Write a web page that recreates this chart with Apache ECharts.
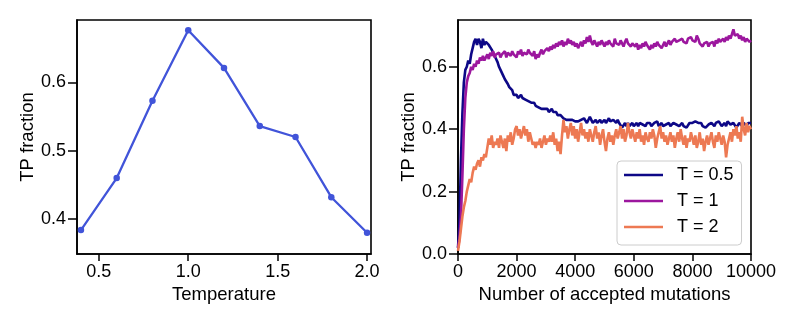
<!DOCTYPE html>
<html>
<head>
<meta charset="utf-8">
<script src="https://cdn.jsdelivr.net/npm/echarts@6/dist/echarts.min.js"></script>
<style>
html,body{margin:0;padding:0;background:#fff;}
#c{width:797px;height:323px;}
</style>
</head>
<body>
<div id="c"></div>
<script>
// ---- Left panel data ----
const temperatures = [0.4, 0.6, 0.8, 1.0, 1.2, 1.4, 1.6, 1.8, 2.0];
const tpByTemperature = [0.384, 0.460, 0.573, 0.676, 0.621, 0.536, 0.520, 0.432, 0.380];
const leftXTicks = [0.5, 1.0, 1.5, 2.0];
const leftYTicks = [0.4, 0.5, 0.6];

// ---- Right panel data (sampled every 50 accepted mutations, 0..10000) ----
const mutationStep = 50;
const seriesNames = ['T = 0.5', 'T = 1', 'T = 2'];
const tpT05 = [
  0.02, 0.10, 0.30, 0.45, 0.55, 0.59, 0.60, 0.62, 0.61, 0.64,
  0.66, 0.68, 0.69, 0.67, 0.69, 0.68, 0.66, 0.69, 0.67, 0.68,
  0.685, 0.67, 0.665, 0.655, 0.645, 0.64, 0.625, 0.615, 0.60, 0.59,
  0.585, 0.57, 0.56, 0.555, 0.545, 0.535, 0.53, 0.525, 0.51, 0.505,
  0.51, 0.50, 0.505, 0.51, 0.50, 0.505, 0.495, 0.50, 0.49, 0.495,
  0.485, 0.48, 0.485, 0.475, 0.48, 0.47, 0.475, 0.465, 0.47, 0.465,
  0.46, 0.465, 0.455, 0.46, 0.465, 0.455, 0.45, 0.455, 0.445, 0.44,
  0.445, 0.44, 0.435, 0.44, 0.43, 0.435, 0.43, 0.425, 0.43, 0.435,
  0.425, 0.43, 0.425, 0.42, 0.43, 0.425, 0.435, 0.43, 0.42, 0.425,
  0.44, 0.43, 0.42, 0.425, 0.43, 0.42, 0.425, 0.43, 0.42, 0.425,
  0.43, 0.42, 0.425, 0.435, 0.425, 0.42, 0.43, 0.425, 0.42, 0.43,
  0.42, 0.415, 0.405, 0.41, 0.42, 0.41, 0.42, 0.41, 0.415, 0.42,
  0.41, 0.415, 0.42, 0.41, 0.42, 0.425, 0.415, 0.42, 0.41, 0.42,
  0.415, 0.42, 0.41, 0.415, 0.42, 0.415, 0.425, 0.41, 0.415, 0.42,
  0.41, 0.405, 0.415, 0.41, 0.42, 0.41, 0.415, 0.42, 0.425, 0.415,
  0.42, 0.41, 0.415, 0.42, 0.41, 0.415, 0.405, 0.41, 0.42, 0.415,
  0.42, 0.415, 0.425, 0.43, 0.42, 0.415, 0.42, 0.41, 0.415, 0.405,
  0.41, 0.415, 0.41, 0.42, 0.415, 0.41, 0.42, 0.415, 0.425, 0.42,
  0.41, 0.415, 0.42, 0.41, 0.425, 0.43, 0.415, 0.41, 0.42, 0.415,
  0.405, 0.41, 0.42, 0.415, 0.41, 0.42, 0.415, 0.41, 0.42, 0.415,
  0.42
];
const tpT1 = [
  0.02, 0.05, 0.12, 0.25, 0.40, 0.50, 0.55, 0.57, 0.58, 0.60,
  0.59, 0.61, 0.60, 0.62, 0.61, 0.63, 0.62, 0.635, 0.62, 0.63,
  0.64, 0.625, 0.645, 0.635, 0.65, 0.63, 0.64, 0.635, 0.645, 0.63,
  0.64, 0.635, 0.65, 0.63, 0.645, 0.64, 0.635, 0.65, 0.64, 0.645,
  0.63, 0.65, 0.64, 0.655, 0.635, 0.645, 0.65, 0.64, 0.655, 0.645,
  0.64, 0.635, 0.65, 0.625, 0.64, 0.63, 0.645, 0.655, 0.64, 0.65,
  0.645, 0.66, 0.65, 0.665, 0.655, 0.67, 0.66, 0.675, 0.665, 0.68,
  0.67, 0.685, 0.665, 0.68, 0.67, 0.69, 0.675, 0.685, 0.67, 0.68,
  0.665, 0.675, 0.66, 0.67, 0.68, 0.665, 0.685, 0.675, 0.695, 0.68,
  0.70, 0.68, 0.67, 0.685, 0.675, 0.665, 0.68, 0.67, 0.685, 0.675,
  0.665, 0.68, 0.67, 0.685, 0.675, 0.68, 0.665, 0.69, 0.675, 0.68,
  0.67, 0.685, 0.675, 0.665, 0.68, 0.69, 0.675, 0.68, 0.665, 0.675,
  0.68, 0.665, 0.675, 0.655, 0.67, 0.66, 0.675, 0.665, 0.68, 0.67,
  0.665, 0.655, 0.67, 0.66, 0.675, 0.665, 0.68, 0.67, 0.675, 0.66,
  0.67, 0.68, 0.665, 0.675, 0.685, 0.67, 0.68, 0.675, 0.69, 0.68,
  0.675, 0.685, 0.68, 0.69, 0.68, 0.685, 0.675, 0.69, 0.685, 0.695,
  0.685, 0.69, 0.68, 0.70, 0.69, 0.675, 0.68, 0.665, 0.675, 0.67,
  0.68, 0.665, 0.675, 0.67, 0.68, 0.665, 0.685, 0.675, 0.69, 0.68,
  0.685, 0.69, 0.68, 0.695, 0.685, 0.70, 0.69, 0.705, 0.72, 0.70,
  0.695, 0.705, 0.69, 0.70, 0.685, 0.695, 0.68, 0.69, 0.685, 0.68,
  0.685
];
const tpT2 = [
  0.01, 0.04, 0.08, 0.12, 0.15, 0.17, 0.20, 0.22, 0.24, 0.23,
  0.26, 0.28, 0.27, 0.29, 0.30, 0.28, 0.31, 0.30, 0.32, 0.31,
  0.34, 0.37, 0.35, 0.38, 0.34, 0.36, 0.35, 0.37, 0.34, 0.38,
  0.36, 0.34, 0.37, 0.33, 0.38, 0.36, 0.39, 0.35, 0.37, 0.40,
  0.41, 0.38, 0.40, 0.37, 0.39, 0.41, 0.38, 0.40, 0.36, 0.39,
  0.37, 0.35, 0.36, 0.34, 0.36, 0.35, 0.37, 0.34, 0.36, 0.38,
  0.35, 0.37, 0.36, 0.38, 0.36, 0.39, 0.35, 0.37, 0.33, 0.36,
  0.32, 0.38, 0.43, 0.39, 0.41, 0.37, 0.40, 0.42, 0.38, 0.41,
  0.37, 0.40, 0.36, 0.39, 0.42, 0.38, 0.40, 0.37, 0.39, 0.36,
  0.40, 0.38, 0.36, 0.39, 0.41, 0.37, 0.39, 0.35, 0.38, 0.40,
  0.36, 0.33, 0.37, 0.39, 0.36, 0.38, 0.35, 0.38, 0.40, 0.37,
  0.39, 0.41, 0.37, 0.40, 0.36, 0.38, 0.42, 0.39, 0.37, 0.40,
  0.38, 0.36, 0.39, 0.37, 0.40, 0.36, 0.38, 0.35, 0.39, 0.37,
  0.36, 0.39, 0.37, 0.40, 0.38, 0.34, 0.37, 0.39, 0.41, 0.37,
  0.39, 0.36, 0.38, 0.35, 0.37, 0.39, 0.36, 0.38, 0.34, 0.37,
  0.39, 0.36, 0.40, 0.37, 0.35, 0.38, 0.34, 0.37, 0.36, 0.39,
  0.37, 0.35, 0.38, 0.34, 0.36, 0.39, 0.35, 0.37, 0.33, 0.36,
  0.38, 0.35, 0.37, 0.39, 0.36, 0.34, 0.38, 0.36, 0.39, 0.37,
  0.35, 0.38, 0.36, 0.31, 0.35, 0.37, 0.39, 0.36, 0.40, 0.38,
  0.41, 0.37, 0.39, 0.36, 0.44, 0.40, 0.38, 0.42, 0.39, 0.41,
  0.40
];
const rightXTicks = [0, 2000, 4000, 6000, 8000, 10000];
const rightYTicks = [0.0, 0.2, 0.4, 0.6];

// ---- Chart ----
const FONT = '"Liberation Sans", Arial, Helvetica, sans-serif';
const tickFont = 18, titleFont = 18.5;
const toPairs = arr => arr.map((v, i) => [i * mutationStep, v]);

const gridCommon = { show: true, borderColor: '#000', borderWidth: 1.6, backgroundColor: 'transparent' };
function xAxisCfg(idx, min, max, ticks, name, fmt) {
  return {
    type: 'value', gridIndex: idx, min: min, max: max,
    splitLine: { show: false },
    axisLine: { show: true, onZero: false, lineStyle: { color: '#000', width: 1.6 } },
    axisTick: { show: true, length: 7, customValues: ticks, lineStyle: { color: '#000', width: 1.5 } },
    axisLabel: { customValues: ticks, formatter: fmt, color: '#000', fontFamily: FONT, fontSize: tickFont, margin: 9 },
    name: name, nameLocation: 'middle', nameGap: 28,
    nameTextStyle: { color: '#000', fontFamily: FONT, fontSize: titleFont }
  };
}
function yAxisCfg(idx, min, max, ticks, name) {
  return {
    type: 'value', gridIndex: idx, min: min, max: max,
    splitLine: { show: false },
    axisLine: { show: true, onZero: false, lineStyle: { color: '#000', width: 1.6 } },
    axisTick: { show: true, length: 9, customValues: ticks, lineStyle: { color: '#000', width: 1.5 } },
    axisLabel: { customValues: ticks, formatter: v => v.toFixed(1), color: '#000', fontFamily: FONT, fontSize: tickFont, margin: 11 },
    name: name, nameLocation: 'middle', nameGap: 40,
    nameTextStyle: { color: '#000', fontFamily: FONT, fontSize: titleFont }
  };
}

const chart = echarts.init(document.getElementById('c'), null, { renderer: 'canvas' });
chart.setOption({
  animation: false,
  backgroundColor: '#fff',
  grid: [
    Object.assign({ left: 77, top: 20, width: 294, height: 234 }, gridCommon),
    Object.assign({ left: 458, top: 20, width: 293, height: 234 }, gridCommon)
  ],
  xAxis: [
    xAxisCfg(0, 0.378, 2.022, leftXTicks, 'Temperature', v => v.toFixed(1)),
    xAxisCfg(1, 0, 10000, rightXTicks, 'Number of accepted mutations', v => String(Math.round(v)))
  ],
  yAxis: [
    yAxisCfg(0, 0.349, 0.691, leftYTicks, 'TP fraction'),
    yAxisCfg(1, 0, 0.75, rightYTicks, 'TP fraction')
  ],
  legend: {
    data: seriesNames,
    orient: 'vertical',
    left: 617, top: 161,
    padding: [5, 8, 9, 7],
    itemGap: 8,
    itemWidth: 39, itemHeight: 2.5,
    icon: 'rect',
    backgroundColor: 'rgba(255,255,255,0.8)',
    borderColor: '#cccccc', borderWidth: 1, borderRadius: 4,
    textStyle: { color: '#000', fontFamily: FONT, fontSize: 18, lineHeight: 18, padding: [0, 0, 0, 9] }
  },
  series: [
    {
      type: 'line', xAxisIndex: 0, yAxisIndex: 0,
      data: temperatures.map((t, i) => [t, tpByTemperature[i]]),
      symbol: 'circle', symbolSize: 6.5, showSymbol: true,
      lineStyle: { color: '#4154d9', width: 2.3 },
      itemStyle: { color: '#4154d9' }
    },
    {
      name: seriesNames[0], type: 'line', xAxisIndex: 1, yAxisIndex: 1,
      data: toPairs(tpT05), showSymbol: false, symbol: 'none',
      lineStyle: { color: '#0d0887', width: 2.6 }, itemStyle: { color: '#0d0887' }
    },
    {
      name: seriesNames[1], type: 'line', xAxisIndex: 1, yAxisIndex: 1,
      data: toPairs(tpT1), showSymbol: false, symbol: 'none',
      lineStyle: { color: '#9c179e', width: 2.6 }, itemStyle: { color: '#9c179e' }
    },
    {
      name: seriesNames[2], type: 'line', xAxisIndex: 1, yAxisIndex: 1,
      data: toPairs(tpT2), showSymbol: false, symbol: 'none',
      lineStyle: { color: '#ed7953', width: 2.6 }, itemStyle: { color: '#ed7953' }
    }
  ]
});
</script>
</body>
</html>
